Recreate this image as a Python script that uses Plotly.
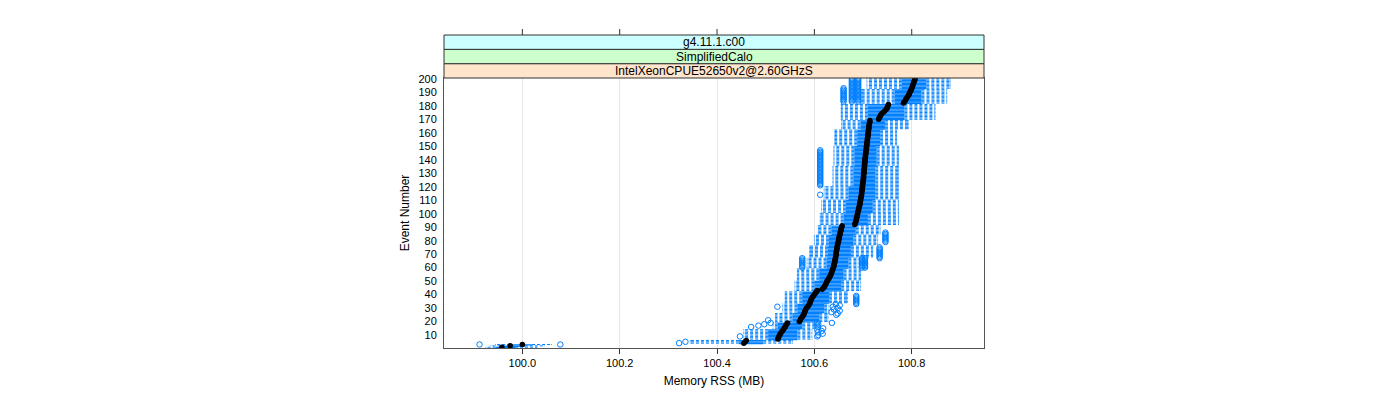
import plotly.graph_objects as go

# ---------------- data ----------------
events = list(range(1, 201))

medians = [
    99.958, 99.975, 100.000, 100.455, 100.458, 100.460, 100.525, 100.526, 100.527, 100.529,
    100.530, 100.532, 100.534, 100.536, 100.538, 100.540, 100.541, 100.543, 100.545, 100.569,
    100.571, 100.572, 100.574, 100.576, 100.578, 100.579, 100.580, 100.581, 100.582, 100.584,
    100.586, 100.588, 100.590, 100.591, 100.592, 100.593, 100.594, 100.596, 100.598, 100.600,
    100.602, 100.604, 100.606, 100.616, 100.619, 100.621, 100.622, 100.624, 100.625, 100.626,
    100.628, 100.630, 100.631, 100.633, 100.634, 100.635, 100.636, 100.637, 100.638, 100.639,
    100.640, 100.640, 100.641, 100.642, 100.642, 100.643, 100.643, 100.644, 100.644, 100.645,
    100.645, 100.645, 100.646, 100.646, 100.647, 100.647, 100.648, 100.648, 100.649, 100.650,
    100.650, 100.651, 100.651, 100.652, 100.653, 100.653, 100.654, 100.655, 100.655, 100.656,
    100.657, 100.683, 100.684, 100.685, 100.686, 100.686, 100.687, 100.688, 100.688, 100.689,
    100.689, 100.690, 100.691, 100.691, 100.692, 100.693, 100.693, 100.694, 100.694, 100.695,
    100.695, 100.696, 100.696, 100.697, 100.697, 100.697, 100.698, 100.698, 100.698, 100.699,
    100.699, 100.699, 100.700, 100.700, 100.700, 100.701, 100.701, 100.701, 100.701, 100.702,
    100.702, 100.702, 100.702, 100.703, 100.703, 100.703, 100.703, 100.704, 100.704, 100.704,
    100.704, 100.705, 100.705, 100.705, 100.706, 100.706, 100.706, 100.707, 100.707, 100.707,
    100.708, 100.708, 100.708, 100.709, 100.709, 100.709, 100.710, 100.710, 100.710, 100.711,
    100.711, 100.711, 100.712, 100.712, 100.712, 100.713, 100.713, 100.714, 100.714, 100.732,
    100.733, 100.735, 100.736, 100.738, 100.741, 100.744, 100.747, 100.749, 100.750, 100.751,
    100.752, 100.783, 100.785, 100.787, 100.788, 100.790, 100.792, 100.794, 100.795, 100.796,
    100.798, 100.799, 100.800, 100.801, 100.802, 100.803, 100.804, 100.805, 100.806, 100.807,
]

# box / whisker statistics, constant over runs of events
band_first = [1, 2, 3, 4, 7, 15, 20, 27, 34, 43, 51, 60, 68, 77, 85, 92, 101, 111, 121, 136, 151, 163, 170, 182, 193]
band_last = [1, 2, 3, 6, 14, 19, 26, 33, 42, 50, 59, 67, 76, 84, 91, 100, 110, 120, 135, 150, 162, 169, 181, 192, 200]
band_lo = [99.925, 99.935, 99.945, 100.345, 100.455, 100.515, 100.520, 100.535, 100.540, 100.560, 100.565, 100.585,
           100.590, 100.600, 100.608, 100.612, 100.615, 100.620, 100.638, 100.640, 100.642, 100.656, 100.655,
           100.697, 100.708]
band_q1 = [99.945, 99.955, 99.975, 100.445, 100.505, 100.525, 100.555, 100.565, 100.575, 100.600, 100.610, 100.625,
           100.628, 100.630, 100.635, 100.660, 100.665, 100.670, 100.680, 100.682, 100.688, 100.695, 100.710,
           100.765, 100.780]
band_q3 = [99.985, 100.005, 100.020, 100.495, 100.565, 100.575, 100.610, 100.620, 100.630, 100.655, 100.660, 100.670,
           100.675, 100.680, 100.685, 100.710, 100.720, 100.725, 100.725, 100.728, 100.735, 100.745, 100.785,
           100.820, 100.830]
band_hi = [100.030, 100.045, 100.060, 100.555, 100.595, 100.600, 100.628, 100.630, 100.668, 100.695, 100.695, 100.690,
           100.720, 100.730, 100.735, 100.773, 100.773, 100.773, 100.773, 100.773, 100.769, 100.793, 100.848,
           100.872, 100.879]

out_event = [
    3, 3, 4, 5, 9,
    9, 10, 11, 12, 13, 14, 15, 16, 17, 18, 19, 19,
    16, 17, 18, 19, 21,
    25, 26, 27, 28, 29, 30, 31, 32, 33, 31,
    33, 34, 35, 36, 37, 38, 39,
    60, 61, 62, 63, 64, 65, 66, 67,
    60, 61, 62, 63, 64, 65, 66, 67,
    60, 61, 62, 63, 64, 65, 66, 67,
    67, 68, 69, 70, 71, 72, 73, 74, 75,
    79, 80, 81, 82, 83, 84, 85, 86,
    114,
    121, 122, 123, 124, 125, 126, 127, 128, 129, 130, 131, 132, 133, 134,
    135, 136, 137, 138, 139, 140, 141, 142, 143, 144, 145, 146, 147,
    183, 184, 185, 186, 187, 188, 189, 190, 191, 192, 193,
    183, 184, 185, 186, 187, 188, 189, 190, 191, 192, 193, 194, 195, 196, 197, 198, 199, 200,
    183, 184, 185, 186, 187, 188, 189, 190, 191, 192, 193, 194, 195, 196, 197, 198, 199, 200,
]
out_value = [
    99.912, 100.078, 100.322, 100.335, 100.447,
    100.606, 100.608, 100.617, 100.607, 100.615, 100.606, 100.618, 100.607, 100.606, 100.608, 100.606, 100.636,
    100.470, 100.485, 100.497, 100.510, 100.505,
    100.645, 100.648, 100.635, 100.652, 100.640, 100.648, 100.638, 100.652, 100.644, 100.524,
    100.686, 100.686, 100.686, 100.686, 100.686, 100.686, 100.686,
    100.575, 100.575, 100.575, 100.575, 100.575, 100.575, 100.575, 100.575,
    100.698, 100.698, 100.698, 100.698, 100.698, 100.698, 100.698, 100.698,
    100.704, 100.704, 100.704, 100.704, 100.704, 100.704, 100.704, 100.704,
    100.734, 100.734, 100.734, 100.734, 100.734, 100.734, 100.734, 100.734, 100.734,
    100.746, 100.746, 100.746, 100.746, 100.746, 100.746, 100.746, 100.746,
    100.612,
    100.612, 100.612, 100.612, 100.612, 100.612, 100.612, 100.612, 100.612, 100.612, 100.612, 100.612, 100.612,
    100.612, 100.612, 100.612, 100.612, 100.612, 100.612, 100.612, 100.612, 100.612, 100.612, 100.612, 100.612,
    100.612, 100.612, 100.612,
    100.660, 100.660, 100.660, 100.660, 100.660, 100.660, 100.660, 100.660, 100.660, 100.660, 100.660,
    100.677, 100.677, 100.677, 100.677, 100.677, 100.677, 100.677, 100.677, 100.677, 100.677, 100.677, 100.677,
    100.677, 100.677, 100.677, 100.677, 100.677, 100.677,
    100.690, 100.690, 100.690, 100.690, 100.690, 100.690, 100.690, 100.690, 100.690, 100.690, 100.690, 100.690,
    100.690, 100.690, 100.690, 100.690, 100.690, 100.690,
]

x_ticks = [100.0, 100.2, 100.4, 100.6, 100.8]
x_tick_labels = ["100.0", "100.2", "100.4", "100.6", "100.8"]
y_ticks = [10, 20, 30, 40, 50, 60, 70, 80, 90, 100, 110, 120, 130, 140, 150, 160, 170, 180, 190, 200]
strip_labels = ["IntelXeonCPUE52650v2@2.60GHzS", "SimplifiedCalo", "g4.11.1.c00"]
strip_colors = ["#ffe5cc", "#ccffcc", "#ccffff"]

# ---------------- build per-event stats ----------------
lo, q1, q3, hi = {}, {}, {}, {}
for f, l, a, b, c, d in zip(band_first, band_last, band_lo, band_q1, band_q3, band_hi):
    for e in range(f, l + 1):
        lo[e], q1[e], q3[e], hi[e] = a, b, c, d

BLUE = "#0080ff"
H = 0.25  # half box height (event units)

wx, wy, sx, sy, bx, by = [], [], [], [], [], []
for e in events:
    wx += [q1[e], lo[e], None, q3[e], hi[e], None]
    wy += [e, e, None, e, e, None]
    sx += [lo[e], lo[e], None, hi[e], hi[e], None]
    sy += [e - H, e + H, None, e - H, e + H, None]
    bx += [q1[e], q3[e], q3[e], q1[e], q1[e], None]
    by += [e - H, e - H, e + H, e + H, e - H, None]

fig = go.Figure()
fig.add_trace(go.Scatter(x=wx, y=wy, mode="lines", hoverinfo="skip",
                         line=dict(color=BLUE, width=1, dash="3px,2px")))
fig.add_trace(go.Scatter(x=sx, y=sy, mode="lines", hoverinfo="skip",
                         line=dict(color=BLUE, width=1)))
fig.add_trace(go.Scatter(x=bx, y=by, mode="lines", hoverinfo="skip",
                         line=dict(color=BLUE, width=1.4)))
fig.add_trace(go.Scatter(x=medians, y=events, mode="markers",
                         marker=dict(color="black", size=5.5, line=dict(width=0))))
fig.add_trace(go.Scatter(x=out_value, y=out_event, mode="markers",
                         marker=dict(symbol="circle-open", color=BLUE, size=5.5, line=dict(width=1, color=BLUE))))

FONT = "Liberation Sans, Arial, sans-serif"
PLOT_H = 270.0
strip_h = 14.33 / PLOT_H

shapes = []
annotations = []
for i, (lab, col) in enumerate(zip(strip_labels, strip_colors)):
    y0 = 1 + i * strip_h
    y1 = 1 + (i + 1) * strip_h
    shapes.append(dict(type="rect", xref="paper", yref="paper", x0=0, x1=1, y0=y0, y1=y1,
                       fillcolor=col, line=dict(color="#333333", width=1), layer="above"))
    annotations.append(dict(text=lab, xref="paper", yref="paper", x=0.5, y=(y0 + y1) / 2,
                            showarrow=False, xanchor="center", yanchor="middle",
                            font=dict(family=FONT, size=12, color="black")))
top = 1 + 3 * strip_h
for t in x_ticks:
    shapes.append(dict(type="line", xref="x", yref="paper", x0=t, x1=t, y0=top, y1=top + 6 / PLOT_H,
                       line=dict(color="#333333", width=1)))

# page body has an 8px default margin, so margins are offset accordingly
fig.update_layout(
    width=1400, height=400,
    margin=dict(l=436, r=424, t=70, b=60, pad=0),
    paper_bgcolor="white", plot_bgcolor="white",
    showlegend=False,
    shapes=shapes, annotations=annotations,
    font=dict(family=FONT, size=11, color="black"),
    xaxis=dict(range=[99.839, 100.9485], tickvals=x_ticks, ticktext=x_tick_labels,
               ticks="outside", ticklen=5, tickcolor="#333333", tickfont=dict(size=11),
               showgrid=True, gridcolor="#e6e6e6", gridwidth=1, zeroline=False,
               showline=True, linecolor="#555555", linewidth=1, mirror=True,
               title=dict(text="Memory RSS (MB)", font=dict(size=12), standoff=8)),
    yaxis=dict(range=[0.4, 200.6], tickvals=y_ticks, ticktext=[str(v) for v in y_ticks],
               ticks="outside", ticklen=4, tickcolor="rgba(0,0,0,0)", tickfont=dict(size=11),
               showgrid=False, zeroline=False,
               showline=True, linecolor="#555555", linewidth=1, mirror=True,
               title=dict(text="Event Number", font=dict(size=12), standoff=6)),
)

fig.write_html("out.html")
